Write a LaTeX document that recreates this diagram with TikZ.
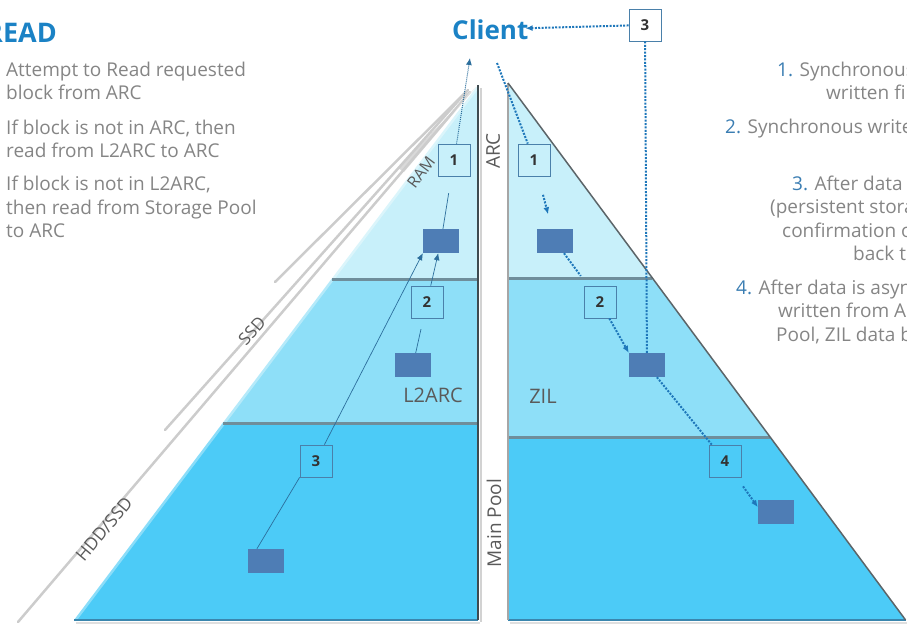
\documentclass[tikz,border=0pt]{standalone}
\usepackage{fontspec}
\setmainfont{Open Sans}
\usetikzlibrary{arrows.meta,calc}
\definecolor{topL}{HTML}{C8F0FA}
\definecolor{midL}{HTML}{8EDFF8}
\definecolor{botL}{HTML}{4CCBF7}
\definecolor{blk}{HTML}{4E7DB5}
\definecolor{titleblue}{HTML}{1B82C5}
\definecolor{numblue}{HTML}{3A7DB2}
\definecolor{txtgray}{HTML}{858585}
\definecolor{lblgray}{HTML}{5A5A5A}
\definecolor{readline}{HTML}{2C6E9C}
\definecolor{writeline}{HTML}{1E77BA}
\definecolor{boxline}{HTML}{4A80AA}
\definecolor{sepgray}{HTML}{6F8E9B}
\definecolor{edgedark}{HTML}{3F4A4F}
\definecolor{edgeblue}{HTML}{3A86AE}
\newcommand{\myfs}[1]{\fontsize{#1}{#1}\selectfont}
\begin{document}
\begin{tikzpicture}[x=1pt,y=-1pt,
  numbox/.style={draw=boxline, line width=0.8pt, minimum width=32pt, minimum height=32pt, inner sep=0pt, font=\myfs{15}\bfseries, text=black!80},
  datablock/.style={fill=blk, minimum width=36pt, minimum height=24pt, inner sep=0pt},
  readconn/.style={draw=readline, line width=0.7pt},
  readdot/.style={draw=readline, line width=1pt, dash pattern=on 1pt off 1pt},
  writeconn/.style={draw=writeline, line width=2pt, dash pattern=on 2pt off 1.4pt},
  tip/.style={-{Latex[length=7pt,width=6pt]}},
  body/.style={anchor=base west, inner sep=0pt, text=txtgray, font=\myfs{19}},
  lbl/.style={inner sep=0pt, text=lblgray},
  shadowline/.style={draw=gray!40, line width=2.5pt, line cap=round},
  sepline/.style={draw=sepgray, line width=3pt},
]
\useasboundingbox (0,0) rectangle (907,625);
\clip (0,0) rectangle (907,625);

% shadow lines to the left of the read pyramid
\fill[gray!30] (476,87) -- (398,168) -- (404,172) -- cycle;
\draw[shadowline] (466,92) -- (275,282);
\draw[shadowline] (468,90) -- (165,430);
\draw[shadowline] (470,92) -- (18,622);

% left (read) pyramid
\fill[topL] (478,85) -- (478,279) -- (331.5,279) -- cycle;
\fill[midL] (331.5,279) -- (478,279) -- (478,423) -- (222.7,423) -- cycle;
\fill[botL] (222.7,423) -- (478,423) -- (478,620) -- (74,620) -- cycle;
\draw[white, opacity=0.35, line width=5pt] (478,85) -- (74,620);
\draw[sepline] (331.5,279) -- (478,279);
\draw[sepline] (222.7,423) -- (478,423);
\draw[gray!25, line width=2pt] (76,622.5) -- (480,622.5);
\draw[edgeblue, line width=2pt] (74,620) -- (478,620);
\draw[gray!35, line width=2pt] (481,88) -- (481,622);
\draw[edgedark, line width=2.5pt] (478,85) -- (478,620);

% right (write) pyramid
\fill[topL] (508,83) -- (652.4,278) -- (508,278) -- cycle;
\fill[midL] (508,278) -- (652.4,278) -- (770.1,437) -- (508,437) -- cycle;
\fill[botL] (508,437) -- (770.1,437) -- (905.6,620) -- (508,620) -- cycle;
\draw[sepline] (508,278) -- (652.4,278);
\draw[sepline] (508,437) -- (770.1,437);
\draw[gray!25, line width=2pt] (510,622.5) -- (907,622.5);
\draw[edgeblue, line width=2pt] (508,620) -- (905.6,620);
\draw[gray!70, line width=2pt] (508,83) -- (508,620);
\draw[edgedark!85, line width=1.5pt] (508,83) -- (905.6,620);

% titles
\node[anchor=base west, inner sep=0pt, text=titleblue, font=\myfs{27}\bfseries] (readtitle) at (-15,42) {READ};
\node[anchor=base west, inner sep=0pt, text=titleblue, font=\myfs{26}\bfseries] (client) at (452,39) {Client};

% left description
\node[body] (r1a) at (6,76) {Attempt to Read requested};
\node[body] (r1b) at (6,99.5) {block from ARC};
\node[body] (r2a) at (6,134) {If block is not in ARC, then};
\node[body] (r2b) at (6,157.5) {read from L2ARC to ARC};
\node[body] (r3a) at (6,190.5) {If block is not in L2ARC,};
\node[body] (r3b) at (6,214) {then read from Storage Pool};
\node[body] (r3c) at (6,237.5) {to ARC};

% right description
\node[body] (w1a) at (777,76) {\textcolor{numblue}{1.} Synchronous};
\node[body] (w1b) at (826,99.5) {written\hspace{5pt}first};
\node[body] (w2a) at (725,133) {\textcolor{numblue}{2.} Synchronous write};
\node[body] (w3a) at (792,190) {\textcolor{numblue}{3.} After data is};
\node[body] (w3b) at (770,213.5) {(persistent storage),};
\node[body] (w3c) at (782,237) {confirmation of};
\node[body] (w3d) at (853,260.5) {back to};
\node[body] (w4a) at (736,294) {\textcolor{numblue}{4.} After data is asynchronously};
\node[body] (w4b) at (778,317.5) {written from ARC};
\node[body] (w4c) at (776,341) {Pool, ZIL data blocks};

% layer labels
\node[lbl, rotate=53, font=\myfs{16}] (ram) at (421,172) {RAM};
\node[lbl, rotate=48, font=\myfs{17}] (ssd) at (252,331) {SSD};
\node[lbl, rotate=50, font=\myfs{17.5}] (hdd) at (104,529) {HDD/SSD};
\node[lbl, rotate=90, font=\myfs{19}] (arc) at (493,151) {ARC};
\node[lbl, rotate=90, font=\myfs{19}] (mainpool) at (494,523) {Main Pool};
\node[lbl, font=\myfs{20}] (l2arc) at (433,395) {L2ARC};
\node[lbl, font=\myfs{20}] (zil) at (543,396) {ZIL};

% data blocks
\node[datablock] (blockA) at (441,241) {};
\node[datablock] (blockB) at (413,365) {};
\node[datablock] (blockC) at (266,561) {};
\node[datablock] (blockD) at (555,241) {};
\node[datablock] (blockE) at (647,365) {};
\node[datablock] (blockF) at (776,512) {};

% numbered boxes
\node[numbox] (boxL1) at (454,160) {1};
\node[numbox] (boxL2) at (427,302) {2};
\node[numbox] (boxL3) at (316,461) {3};
\node[numbox] (boxR1) at (534,160) {1};
\node[numbox] (boxR2) at (600,302) {2};
\node[numbox, fill=white] (boxR3) at (645,25) {3};
\node[numbox] (boxR4) at (725,461) {4};

\coordinate (readtip) at (470,58);
\coordinate (writefrom) at (497,63);

% read path
\draw[readconn, shorten >=17pt] (blockA) -- (boxL1);
\draw[readdot, tip] (boxL1) -- (readtip);
\draw[readconn, shorten >=11pt] (blockB) -- (boxL2);
\draw[readconn, tip] (boxL2) -- (blockA);
\draw[readconn] ($(blockC.north west)!0.25!(blockC.north east)$) -- (boxL3.south west);
\draw[readconn, tip] (boxL3) -- (blockA.south west);

% write path
\draw[writeconn] (writefrom) -- (boxR1);
\draw[writeconn, tip, shorten <=19pt, shorten >=15pt] (boxR1) -- (blockD);
\draw[writeconn, shorten >=12pt] (blockD) -- (boxR2);
\draw[writeconn, tip] (boxR2) -- (blockE.north west);
\draw[writeconn] (blockE) -- (boxR4);
\draw[writeconn, tip, shorten <=11pt] (boxR4) -- ($(blockF.north west)!0.3!(blockF.south west)$);
\draw[writeconn, tip, shorten >=-3pt] (boxR3) -- (client);
\draw[writeconn] (boxR3) -- (blockE);
\end{tikzpicture}
\end{document}
